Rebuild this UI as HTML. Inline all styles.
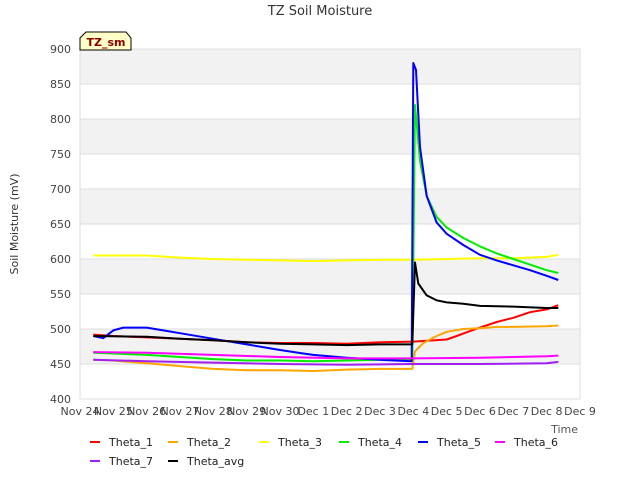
<!DOCTYPE html>
<html><head><meta charset="utf-8"><style>
body{margin:0;background:#fff}
svg{font-family:"DejaVu Sans","Liberation Sans",sans-serif}
</style></head><body>
<svg id="c" width="640" height="480" xmlns="http://www.w3.org/2000/svg">
<text x="320" y="15" text-anchor="middle" font-size="13" fill="#333">TZ Soil Moisture</text>
<g id="grid"></g>
<g id="series"></g>
<g id="axes"></g>
<text transform="translate(18,224) rotate(-90)" text-anchor="middle" font-size="11" fill="#333">Soil Moisture (mV)</text>
<text x="578" y="433" text-anchor="end" font-size="11" fill="#555">Time</text>
<g>
<path d="M80,50 L80,38 L86,32 L126,32 L131,38 L131,50 Z" fill="#ffffc8" stroke="#000" stroke-width="1"/>
<text x="106" y="46" text-anchor="middle" font-size="11" font-weight="bold" fill="#8b0000">TZ_sm</text>
</g>
<g id="legend"></g>
</svg>
<script>
const NS="http://www.w3.org/2000/svg";
const yTicks=[400,450,500,550,600,650,700,750,800,850,900];
const xTickLabels=["Nov 24","Nov 25","Nov 26","Nov 27","Nov 28","Nov 29","Nov 30","Dec 1","Dec 2","Dec 3","Dec 4","Dec 5","Dec 6","Dec 7","Dec 8","Dec 9"];
const seriesNames=["Theta_1","Theta_2","Theta_3","Theta_4","Theta_5","Theta_6","Theta_7","Theta_avg"];
const seriesColors=["#ff0000","#ffa500","#ffff00","#00ee00","#0000ff","#ff00ff","#a020f0","#000000"];
// days since Nov 24
const t1Days=[0.4,1,2,3,4,5,6,7,8,9,10,11,11.3,11.7,12,12.5,13,13.5,14,14.35];
const t1Vals=[492,490,488,486,484,481,480,480,479,481,482,485,490,497,502,510,516,524,528,534];
const t2Days=[0.4,1,2,3,4,5,6,7,8,9,9.97,10.05,10.3,10.7,11,11.5,12,12.5,13,14,14.35];
const t2Vals=[456,455,451,447,443,441,441,440,442,443,443,468,480,490,496,500,501,503,503,504,505];
const t3Days=[0.4,2,3,4,5,6,7,8,9,10,11,12,13,14,14.35];
const t3Vals=[605,605,602,600,599,598,597,598,599,599,600,601,601,603,606];
const t4Days=[0.4,1,2,3,4,5,6,7,8,9,9.97,10.05,10.2,10.4,10.7,11,11.5,12,12.5,13,13.5,14,14.35];
const t4Vals=[466,465,463,460,457,455,455,454,455,456,457,820,740,690,660,645,630,618,608,600,592,584,580];
const t5Days=[0.4,0.7,1,1.3,2,2.5,3,4,5,6,6.7,7,8,9,9.95,10.0,10.08,10.2,10.4,10.7,11,11.5,12,12.5,13,13.5,14,14.35];
const t5Vals=[490,487,498,502,502,498,494,486,478,470,465,463,459,456,454,880,870,760,690,652,636,620,606,598,591,584,576,570];
const t6Days=[0.4,2,4,6,8,10,12,14,14.35];
const t6Vals=[467,466,463,460,458,458,459,461,462];
const t7Days=[0.4,2,4,6,8,10,12,14,14.35];
const t7Vals=[456,454,452,450,449,450,450,451,453];
const avgDays=[0.4,2,3,4,5,6,7,8,9,9.97,10.05,10.15,10.4,10.7,11,11.5,12,13,14,14.35];
const avgVals=[490,489,486,484,481,479,478,477,478,478,595,565,548,541,538,536,533,532,530,530];
const allDays=[t1Days,t2Days,t3Days,t4Days,t5Days,t6Days,t7Days,avgDays];
const allVals=[t1Vals,t2Vals,t3Vals,t4Vals,t5Vals,t6Vals,t7Vals,avgVals];
const L=80,R=580,T=49,B=399;
const xs=d=>L+d*(R-L)/15;
const ys=v=>B-(v-400)*(B-T)/500;
function mk(tag,at,parent){const e=document.createElementNS(NS,tag);for(const k in at)e.setAttribute(k,at[k]);parent.appendChild(e);return e;}
const grid=document.getElementById('grid'),axes=document.getElementById('axes'),ser=document.getElementById('series'),leg=document.getElementById('legend');
mk('rect',{x:L,y:T,width:R-L,height:B-T,fill:'#fff',stroke:'#ddd'},grid);
for(let i=0;i<yTicks.length-1;i++){
  if(i%2===1){const r=mk('rect',{x:L,y:ys(yTicks[i+1]),width:R-L,height:ys(yTicks[i])-ys(yTicks[i+1]),fill:'#f2f2f2'},grid);
  
  }
}
yTicks.forEach(v=>{
  const l=mk('line',{x1:L,x2:R,y1:ys(v),y2:ys(v),stroke:'#ddd'},grid);
  
  
  const t=mk('text',{x:L-9,y:ys(v)+4,'text-anchor':'end','font-size':11,fill:'#444'},axes);
  t.textContent=v;
  
  
});
mk('rect',{x:L,y:T,width:R-L,height:B-T,fill:'none',stroke:'#ddd'},grid);
xTickLabels.forEach((s,i)=>{
  const t=mk('text',{x:xs(i),y:415,'text-anchor':'middle','font-size':11,fill:'#444'},axes);
  t.textContent=s;
  
  
});
allDays.forEach((ds,k)=>{
  const pts=ds.map((d,i)=>xs(d).toFixed(1)+','+ys(allVals[k][i]).toFixed(1)).join(' ');
  const p=mk('polyline',{points:pts,fill:'none',stroke:seriesColors[k],'stroke-width':2,'stroke-linejoin':'round'},ser);
  
  
});
const legX=[90,168,259,339,418,495,90,168];
const legY=[444,444,444,444,444,444,463,463];
seriesNames.forEach((n,k)=>{
  const g=mk('g',{},leg);
  
  
  mk('line',{x1:legX[k],x2:legX[k]+10,y1:legY[k]-2,y2:legY[k]-2,stroke:seriesColors[k],'stroke-width':2},g);
  const t=mk('text',{x:legX[k]+19,y:legY[k]+2,'font-size':11,fill:'#222'},g);
  t.textContent=n;
});
</script>
</body></html>
